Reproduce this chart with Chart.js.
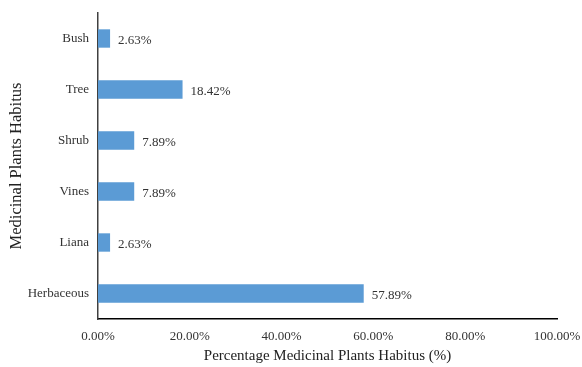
<!DOCTYPE html>
<html>
<head>
<meta charset="utf-8">
<script src="https://cdn.jsdelivr.net/npm/chart.js@4.4.1/dist/chart.umd.min.js"></script>
<style>
  html, body { margin: 0; padding: 0; background: #fff; }
  #wrap { width: 582px; height: 367px; }
</style>
</head>
<body>
<div id="wrap"><canvas id="habitusChart"></canvas></div>
<script>
// habitus categories, top to bottom
const habitus = ['Bush', 'Tree', 'Shrub', 'Vines', 'Liana', 'Herbaceous'];
const percentages = [2.63, 18.42, 7.89, 7.89, 2.63, 57.89];
const xTicks = [0, 20, 40, 60, 80, 100];

const font = 'Liberation Serif, Times New Roman, serif';

// draws the value next to each bar
const valueLabels = {
  id: 'valueLabels',
  afterDatasetsDraw(chart) {
    const ctx = chart.ctx;
    const meta = chart.getDatasetMeta(0);
    ctx.save();
    ctx.font = '13px ' + font;
    ctx.fillStyle = '#333';
    ctx.textAlign = 'left';
    ctx.textBaseline = 'middle';
    meta.data.forEach((bar, i) => {
      ctx.fillText(percentages[i].toFixed(2) + '%', bar.x + 8, bar.y + 2);
    });
    ctx.restore();
  }
};

new Chart(document.getElementById('habitusChart'), {
  type: 'bar',
  data: {
    labels: habitus,
    datasets: [{
      data: percentages,
      backgroundColor: '#5B9BD5',
      borderWidth: 0,
      barPercentage: 0.36,
      categoryPercentage: 1
    }]
  },
  options: {
    indexAxis: 'y',
    responsive: true,
    maintainAspectRatio: false,
    animation: false,
    layout: { padding: { left: 0, right: 25, top: 13, bottom: 0 } },
    plugins: {
      legend: { display: false },
      tooltip: { enabled: false }
    },
    scales: {
      x: {
        min: 0,
        max: 100,
        afterBuildTicks: (scale) => { scale.ticks = xTicks.map(v => ({ value: v })); },
        afterFit: (scale) => {
          scale.height = 48;
          scale.paddingRight = 0;
          scale.paddingLeft = 0;
        },
        grid: { display: false, drawTicks: false },
        border: { display: true, color: '#000', width: 1.5 },
        ticks: {
          padding: 10,
          color: '#333',
          font: { family: font, size: 13 },
          callback: (v) => v.toFixed(2) + '%'
        },
        title: {
          display: true,
          text: 'Percentage Medicinal Plants Habitus (%)',
          color: '#222',
          font: { family: font, size: 15 },
          padding: { top: 0, bottom: 2 }
        }
      },
      y: {
        afterFit: (scale) => {
          scale.width = 98;
          scale.paddingTop = 0;
          scale.paddingBottom = 0;
        },
        grid: { display: false, drawTicks: false },
        border: { display: true, color: '#404040', width: 1.5 },
        ticks: {
          padding: 9,
          color: '#333',
          font: { family: font, size: 13 }
        },
        title: {
          display: true,
          text: 'Medicinal Plants Habitus',
          color: '#222',
          font: { family: font, size: 16.5 },
          padding: { top: 7, bottom: 0 }
        }
      }
    }
  },
  plugins: [valueLabels]
});
</script>
</body>
</html>
